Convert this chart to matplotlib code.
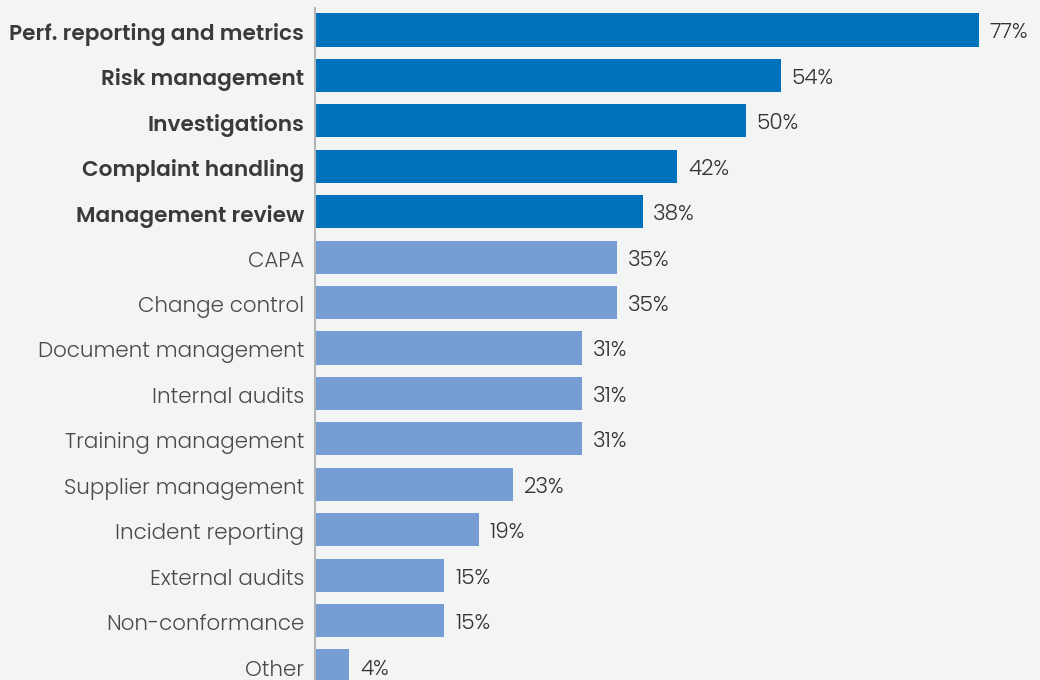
import matplotlib
matplotlib.use("Agg")
import matplotlib.pyplot as plt
from matplotlib.transforms import ScaledTranslation, blended_transform_factory

categories = [
    "Perf. reporting and metrics", "Risk management", "Investigations",
    "Complaint handling", "Management review", "CAPA", "Change control",
    "Document management", "Internal audits", "Training management",
    "Supplier management", "Incident reporting", "External audits",
    "Non-conformance", "Other",
]
values = [77, 54, 50, 42, 38, 35, 35, 31, 31, 31, 23, 19, 15, 15, 4]
highlight_count = 5

bg = "#f3f5f4"
dark_blue = "#0072bc"
light_blue = "#769ed4"

plt.rcParams["font.family"] = ["Poppins", "DejaVu Sans"]

fig = plt.figure(figsize=(10.4, 6.8), dpi=100, facecolor=bg)
ax = fig.add_axes([315 / 1040, 0, 725 / 1040, 1 - 8 / 680], facecolor=bg)

ypos = list(range(len(categories)))
colors = [dark_blue if i < highlight_count else light_blue for i in ypos]
ax.barh(ypos, values, height=0.73, color=colors, zorder=2)

# value labels just right of each bar, nudged slightly below centre
value_shift = ScaledTranslation(0, -3.5 / 100, fig.dpi_scale_trans)
for i, v in enumerate(values):
    ax.text(v + 1.25, i, f"{v}%", va="center", ha="left", fontsize=15.5,
            fontweight=300, color="#333333",
            transform=ax.transData + value_shift)

# category labels to the left of the axis line
label_trans = (blended_transform_factory(ax.transAxes, ax.transData)
               + ScaledTranslation(-11 / 100, -4.5 / 100, fig.dpi_scale_trans))
for i, name in enumerate(categories):
    strong = i < highlight_count
    ax.text(0, i, name, ha="right", va="center",
            fontsize=15.6 if strong else 15.4,
            fontweight=600 if strong else 300,
            color="#3a3a3a" if strong else "#4a4a4a",
            transform=label_trans, clip_on=False)

ax.set_xlim(0, 84.1)
ax.set_ylim(14.308, -0.484)
ax.set_yticks([])
ax.set_xticks([])
for side in ["top", "right", "bottom"]:
    ax.spines[side].set_visible(False)
ax.spines["left"].set_color("#b5b5b5")
ax.spines["left"].set_linewidth(1.5)

fig.savefig("out.png", dpi=100, facecolor=bg)
